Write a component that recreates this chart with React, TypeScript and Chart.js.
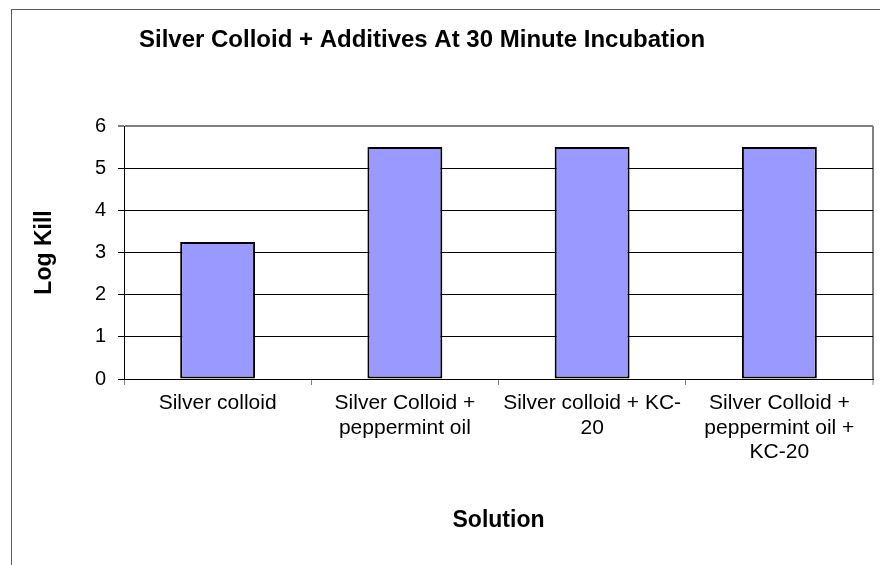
import React, { useEffect, useRef } from 'react';
import { Chart, registerables } from 'chart.js';

Chart.register(...registerables);

const chartTitle = 'Silver Colloid + Additives At 30 Minute Incubation';
const categories: string[][] = [
  ['Silver colloid'],
  ['Silver Colloid +', 'peppermint oil'],
  ['Silver colloid + KC-', '20'],
  ['Silver Colloid +', 'peppermint oil +', 'KC-20'],
];
const logKill = [3.25, 5.5, 5.5, 5.5];
const yMin = 0;
const yMax = 6;
const yStep = 1;
const xAxisTitle = 'Solution';
const yAxisTitle = 'Log Kill';

const FONT = '"Liberation Sans", Arial, Helvetica, sans-serif';

const titlePlugin = {
  id: 'customTitle',
  afterDraw(chart: any) {
    const ctx = chart.ctx;
    ctx.save();
    ctx.font = `bold 24px ${FONT}`;
    ctx.fillStyle = '#000';
    ctx.textAlign = 'center';
    ctx.textBaseline = 'alphabetic';
    ctx.fillText(chartTitle, 410, 37);
    ctx.restore();
  },
};

export default function App() {
  const ref = useRef<HTMLCanvasElement | null>(null);

  useEffect(() => {
    if (!ref.current) return;
    const chart = new Chart(ref.current, {
      type: 'bar',
      data: {
        labels: categories,
        datasets: [
          {
            data: logKill,
            backgroundColor: '#9999FF',
            borderColor: '#000000',
            borderWidth: 2,
            borderSkipped: false,
            barPercentage: 0.4,
            categoryPercentage: 1.0,
          },
        ],
      },
      options: {
        responsive: false,
        animation: false,
        devicePixelRatio: 1,
        layout: { padding: { left: 0, top: 116, right: 19, bottom: 0 } },
        plugins: {
          legend: { display: false },
          title: { display: false },
          tooltip: { enabled: false },
        },
        scales: {
          x: {
            type: 'category',
            offset: true,
            afterFit: (scale: any) => {
              scale.height = 191;
            },
            grid: {
              offset: true,
              drawOnChartArea: true,
              color: (ctx: any) => (ctx.tick ? 'rgba(0,0,0,0)' : '#808080'),
              lineWidth: (ctx: any) => (ctx.tick ? 1 : 2),
              tickColor: '#808080',
              tickLength: 6,
              tickWidth: 1,
            },
            border: { display: true, color: '#000000', width: 1 },
            ticks: {
              color: '#000000',
              font: { family: FONT, size: 21, lineHeight: 1.17 },
              padding: 6,
              maxRotation: 0,
              minRotation: 0,
              autoSkip: false,
            },
            title: {
              display: true,
              text: xAxisTitle,
              color: '#000000',
              font: { family: FONT, size: 23, weight: 'bold' },
              padding: { top: 0, bottom: 36 },
            },
          },
          y: {
            min: yMin,
            max: yMax,
            afterFit: (scale: any) => {
              scale.width = 112;
            },
            grid: {
              color: (ctx: any) => (ctx.tick && ctx.tick.value === yMax ? '#808080' : '#000000'),
              lineWidth: (ctx: any) => (ctx.tick && ctx.tick.value === yMax ? 2 : 1),
              tickColor: '#000000',
              tickLength: 6,
              tickWidth: 1,
            },
            border: { display: true, color: '#000000', width: 1 },
            ticks: {
              stepSize: yStep,
              color: '#000000',
              font: { family: FONT, size: 20 },
              padding: 12,
            },
            title: {
              display: true,
              text: yAxisTitle,
              color: '#000000',
              font: { family: FONT, size: 23, weight: 'bold' },
              padding: { top: 19, bottom: 0 },
            },
          },
        },
      },
      plugins: [titlePlugin],
    });
    return () => chart.destroy();
  }, []);

  return (
    <div
      style={{
        position: 'fixed',
        left: 11,
        top: 9,
        width: 880,
        height: 570,
        border: '1px solid #5a5a5a',
        background: '#ffffff',
      }}
    >
      <canvas ref={ref} width={880} height={560} style={{ display: 'block' }} />
    </div>
  );
}
